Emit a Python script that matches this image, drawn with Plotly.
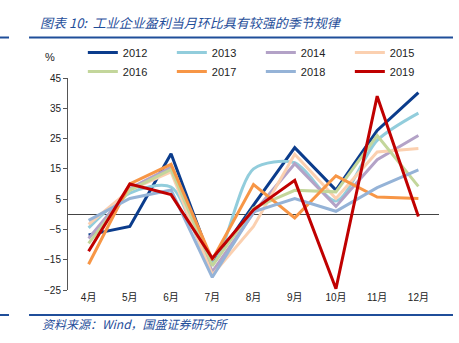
import plotly.graph_objects as go

months = ["4月", "5月", "6月", "7月", "8月", "9月", "10月", "11月", "12月"]
years = ["2012", "2013", "2014", "2015", "2016", "2017", "2018", "2019"]

v2012 = [-6.8, -4.0, 20.0, -16.5, 3.0, 22.0, 8.0, 27.7, 40.2]
v2013 = [-4.5, 7.0, 9.0, -16.0, 15.0, 17.0, 4.4, 24.4, 33.4]
v2014 = [-8.0, 8.5, 15.5, -19.0, 0.5, 16.7, 2.6, 18.0, 26.0]
v2015 = [-3.3, 8.0, 14.0, -20.0, -4.0, 19.8, 5.2, 20.6, 21.7]
v2016 = [-9.6, 8.0, 14.8, -17.0, 2.0, 7.9, 7.4, 26.0, 9.2]
v2017 = [-16.5, 10.0, 16.5, -15.0, 9.8, -1.2, 12.7, 5.7, 5.2]
v2018 = [-2.0, 5.2, 8.0, -20.8, 0.8, 5.2, 1.0, 8.8, 14.7]
v2019 = [-12.2, 10.0, 6.5, -14.5, 1.5, 11.2, -24.6, 39.0, -0.7]

series = [v2012, v2013, v2014, v2015, v2016, v2017, v2018, v2019]
colors = ["#0B3C8C", "#92CDDC", "#B3A2C7", "#FBD0B0", "#C3D69B", "#F79646", "#95B3D7", "#C00000"]
yticks = [45, 35, 25, 15, 5, -5, -15, -25]

fig = go.Figure()
for name, vals, col in zip(years, series, colors):
    fig.add_trace(go.Scatter(
        x=months, y=vals, name=name, mode="lines",
        line=dict(color=col, width=3, shape="spline" if name == "2013" else "linear",
                  smoothing=0.8),
    ))

fig.update_layout(
    width=459, height=343,
    margin=dict(l=68, r=20, t=78, b=53),
    paper_bgcolor="white", plot_bgcolor="white",
    font=dict(family="Liberation Sans, Noto Sans CJK SC", size=10, color="#222"),
    showlegend=True,
    legend=dict(orientation="h", x=0.04, y=1.189, xanchor="left", yanchor="top",
                entrywidth=44, entrywidthmode="pixels", traceorder="normal",
                font=dict(size=11, family="Liberation Sans"), bgcolor="rgba(0,0,0,0)",
                itemwidth=30, tracegroupgap=0),
    xaxis=dict(type="category", range=[-0.5, 8.5], showgrid=False, showline=False,
               ticks="", tickfont=dict(size=10, family="Liberation Sans, Noto Sans CJK SC"),
               zeroline=False),
    yaxis=dict(range=[-25, 45], tickvals=yticks, showgrid=False, showline=True,
               linecolor="#555", linewidth=1, ticks="outside", ticklen=4, tickcolor="#555",
               zeroline=True, zerolinecolor="#444", zerolinewidth=1,
               tickfont=dict(size=10)),
)

# title, rules, source
blue = "#1F4E9A"
fig.add_annotation(text="<i>图表 10:  工业企业盈利当月环比具有较强的季节规律</i>", xref="paper", yref="paper",
                   x=-0.081, y=1.264, xanchor="left", yanchor="middle", showarrow=False,
                   font=dict(size=13, color=blue, family="Noto Sans CJK SC"))
fig.add_annotation(text="<i>资料来源：Wind，国盛证券研究所</i>", xref="paper", yref="paper",
                   x=-0.0755, y=-0.156, xanchor="left", yanchor="middle", showarrow=False,
                   font=dict(size=12, color=blue, family="Noto Sans CJK SC"))
fig.add_annotation(text="%", xref="paper", yref="paper", x=-0.0485, y=1.099,
                   xanchor="center", yanchor="middle", showarrow=False, font=dict(size=11))
for y in [1.191, -0.118]:
    fig.add_shape(type="line", xref="paper", yref="paper", x0=-0.105, x1=1.0377, y0=y, y1=y,
                  line=dict(color=blue, width=2))
    fig.add_shape(type="line", xref="paper", yref="paper", x0=-0.1833, x1=-0.159, y0=y, y1=y,
                  line=dict(color=blue, width=2))

fig.write_html("out.html")
